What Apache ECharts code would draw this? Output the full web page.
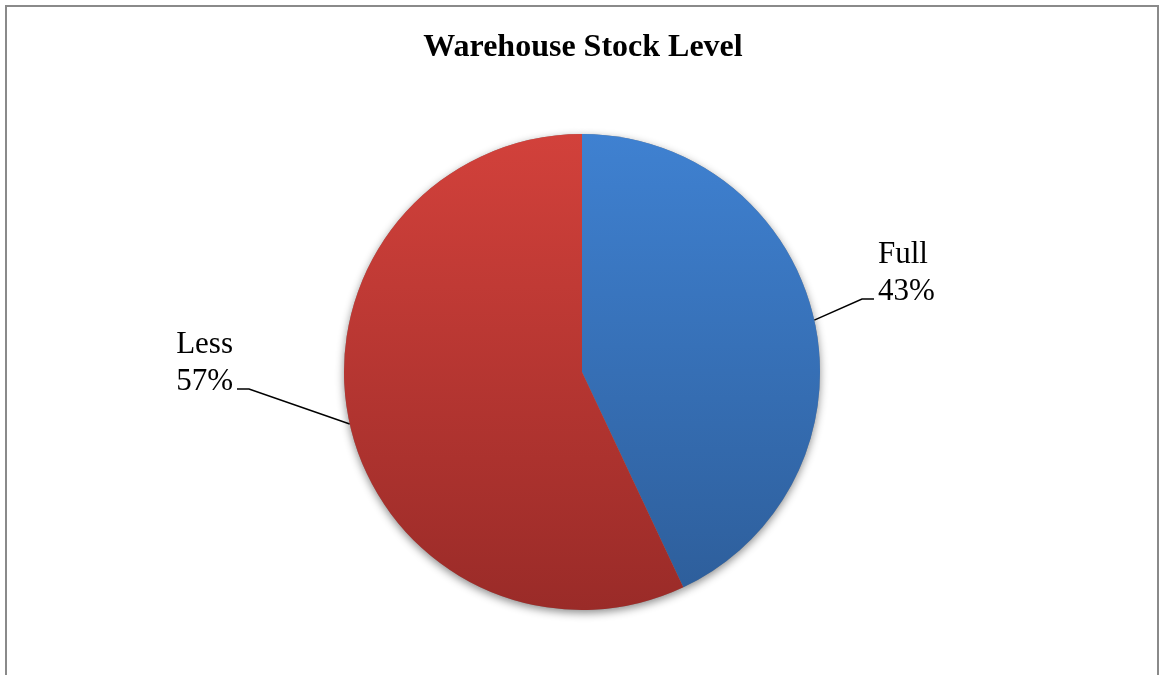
<!DOCTYPE html>
<html>
<head>
<meta charset="utf-8">
<title>Warehouse Stock Level</title>
<script src="https://cdn.jsdelivr.net/npm/echarts@6/dist/echarts.min.js"></script>
<style>
  html, body { margin: 0; padding: 0; background: #ffffff; }
  #chart { width: 1160px; height: 675px; }
</style>
</head>
<body>
<div id="chart"></div>
<script>
// Stock level shares
const categories = ['Full', 'Less'];
const shares = [43, 57];

// Slice gradients (top colour, bottom colour)
const sliceColors = [
  ['#3f81d1', '#2d5d99'],
  ['#d2413b', '#9a2b28']
];

const cx = 582, cy = 372, r = 238;

function sliceGradient(i) {
  return new echarts.graphic.LinearGradient(0, cy - r, 0, cy + r, [
    { offset: 0, color: sliceColors[i][0] },
    { offset: 1, color: sliceColors[i][1] }
  ], true);
}

const pieData = categories.map((name, i) => ({
  name: name,
  value: shares[i],
  itemStyle: { color: sliceGradient(i) }
}));

// Where each label block sits (left/right edge, top) and which side it hangs from
const labelPlacement = {
  Full: { x: 874, y: 236, align: 'left' },
  Less: { x: 237, y: 326, align: 'right' }
};

const chart = echarts.init(document.getElementById('chart'), null, { renderer: 'canvas' });

chart.setOption({
  animation: false,
  backgroundColor: '#ffffff',
  title: {
    text: 'Warehouse Stock Level',
    left: 578,
    top: 27,
    textAlign: 'center',
    textStyle: {
      fontFamily: 'Liberation Serif',
      fontWeight: 'bold',
      fontSize: 32,
      color: '#000000'
    }
  },
  graphic: [{
    type: 'rect',
    shape: { x: 6, y: 6, width: 1152, height: 700 },
    style: { fill: 'none', stroke: '#8a8a8a', lineWidth: 2 },
    silent: true,
    z: 100
  }],
  series: [
    {
      // soft drop shadow under the whole pie
      type: 'pie',
      silent: true,
      center: [cx, cy],
      radius: r,
      startAngle: 90,
      clockwise: true,
      z: 1,
      label: { show: false },
      labelLine: { show: false },
      itemStyle: {
        color: '#888888',
        shadowBlur: 8,
        shadowOffsetY: 3,
        shadowColor: 'rgba(0,0,0,0.45)'
      },
      data: categories.map((name, i) => ({ name: name, value: shares[i] }))
    },
    {
      type: 'pie',
      center: [cx, cy],
      radius: r,
      startAngle: 90,
      clockwise: true,
      z: 2,
      data: pieData,
      label: {
        show: true,
        position: 'outside',
        formatter: p => p.name + '\n' + p.value + '%',
        fontFamily: 'Liberation Serif',
        fontSize: 31,
        lineHeight: 37,
        color: '#000000',
        padding: [0, 4, 52, 4]
      },
      labelLine: {
        show: true,
        length: 20,
        length2: 12,
        lineStyle: { color: '#000000', width: 1.5 }
      },
      labelLayout: function (params) {
        const name = categories[params.dataIndex];
        const p = labelPlacement[name];
        return {
          x: p.x,
          y: p.y,
          align: p.align,
          verticalAlign: 'top'
        };
      }
    }
  ]
});
</script>
</body>
</html>
